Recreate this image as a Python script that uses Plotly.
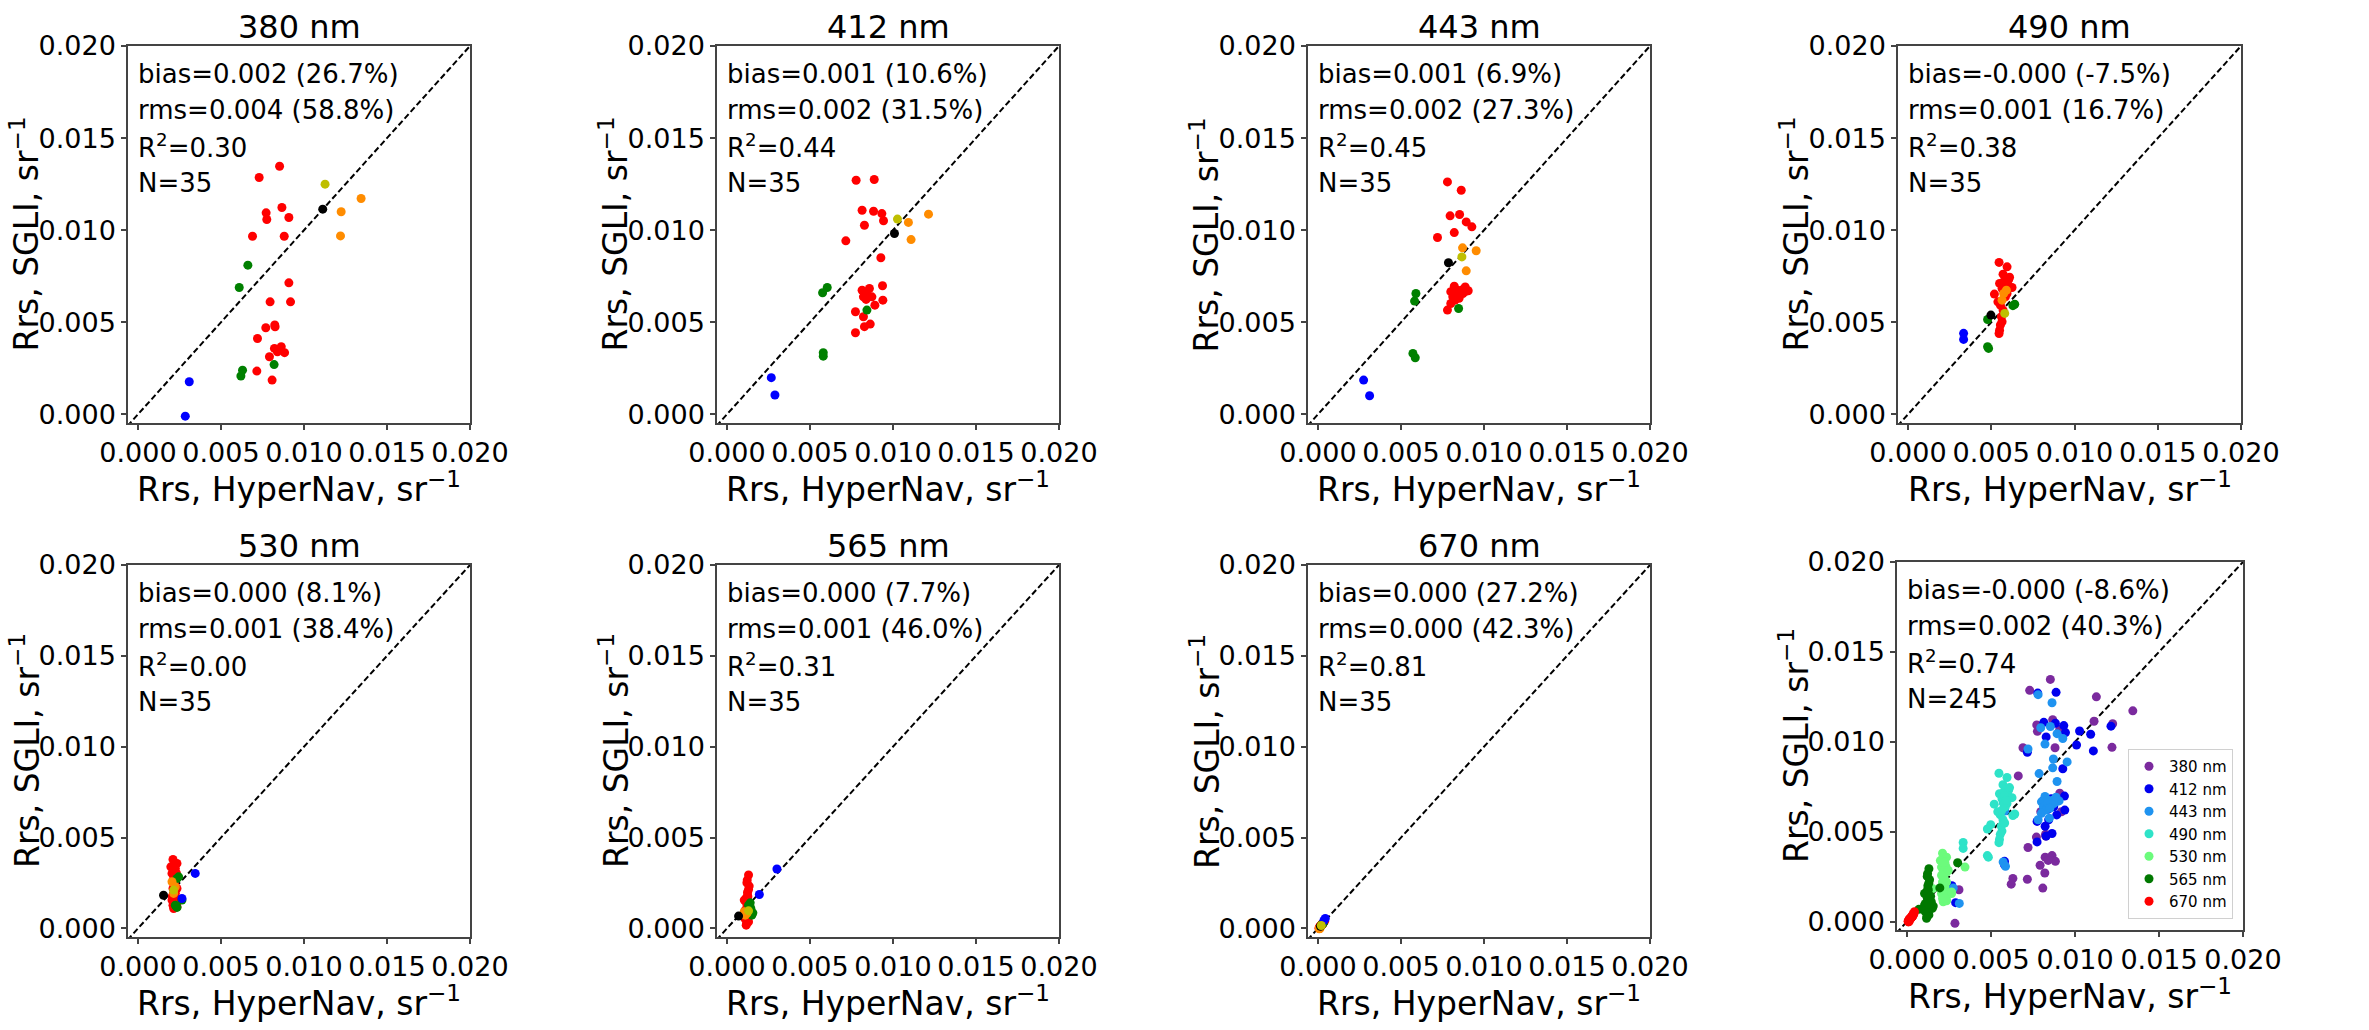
import plotly.graph_objects as go

# ---------------------------------------------------------------------------
# Matchup data: Rrs from HyperNav (x) vs SGLI (y), sr^-1, 35 matchups per band.
# Sample order is the same in every band: 23 red, 5 green, 2 blue, 3 orange,
# 1 black, 1 olive group members.
# ---------------------------------------------------------------------------
sample_group = (["red"] * 23 + ["green"] * 5 + ["blue"] * 2 +
                ["orange"] * 3 + ["black"] + ["olive"])

hn_380 = [0.00853, 0.0073, 0.00867, 0.00772, 0.00776, 0.00909, 0.0069, 0.00881, 0.00909, 0.00796,
          0.00919, 0.0077, 0.00824, 0.00826, 0.0072, 0.00822, 0.00863, 0.00883, 0.00845, 0.00792,
          0.00716, 0.00808, 0.0084,
          0.00662, 0.0061, 0.0063, 0.0062, 0.0082,
          0.00309, 0.00285,
          0.01344, 0.01224, 0.0122,
          0.01113,
          0.01127]
sg_380 = [0.01347, 0.01286, 0.01123, 0.01094, 0.01058, 0.01069, 0.00967, 0.00967, 0.00714, 0.00611,
          0.00611, 0.0047, 0.00485, 0.00475, 0.00412, 0.00358, 0.00367, 0.00335, 0.00353, 0.00313,
          0.00235, 0.00186, 0.0034,
          0.0081, 0.00689, 0.0024, 0.00208, 0.0027,
          0.00177, -0.0001,
          0.01172, 0.011, 0.00969,
          0.01114,
          0.0125]

hn_412 = [0.00778, 0.00887, 0.00814, 0.00883, 0.00933, 0.00943, 0.00828, 0.00716, 0.00927, 0.00937,
          0.00939, 0.00814, 0.00858, 0.00822, 0.00846, 0.00873, 0.00838, 0.00891, 0.00774, 0.00822,
          0.00828, 0.00863, 0.00774,
          0.00576, 0.00604, 0.0058, 0.0058, 0.00843,
          0.00267, 0.00289,
          0.01214, 0.01093, 0.01109,
          0.01009,
          0.01027]
sg_412 = [0.01271, 0.01275, 0.01108, 0.01103, 0.0109, 0.01051, 0.01027, 0.00942, 0.0085, 0.00698,
          0.0062, 0.00674, 0.00683, 0.00638, 0.00647, 0.00638, 0.00624, 0.00593, 0.00557, 0.0053,
          0.00476, 0.0049, 0.00443,
          0.0066, 0.00689, 0.00335, 0.00316, 0.00566,
          0.00199, 0.00105,
          0.01087, 0.01042, 0.00949,
          0.00982,
          0.0106]

hn_443 = [0.0078, 0.00863, 0.00796, 0.00853, 0.00893, 0.00927, 0.00821, 0.0072, 0.00821, 0.00837,
          0.008, 0.00867, 0.00905, 0.0089, 0.00812, 0.00847, 0.00873, 0.00826, 0.008, 0.0078,
          0.00887, 0.00835, 0.0085,
          0.0059, 0.00582, 0.00572, 0.00586, 0.00847,
          0.00275, 0.00311,
          0.00871, 0.00953, 0.00893,
          0.00786,
          0.00867]
sg_443 = [0.01262, 0.01217, 0.01078, 0.01085, 0.01045, 0.01018, 0.00987, 0.0096, 0.00696, 0.00675,
          0.00666, 0.00675, 0.00671, 0.00668, 0.00638, 0.00647, 0.00656, 0.0062, 0.00602, 0.00566,
          0.00692, 0.0066, 0.0063,
          0.00656, 0.00615, 0.00331, 0.00307, 0.00575,
          0.00186, 0.00101,
          0.00904, 0.00888, 0.00779,
          0.00823,
          0.00855]

hn_490 = [0.00547, 0.00595, 0.00519, 0.0055, 0.00575, 0.00605, 0.00599, 0.00625, 0.00565, 0.00585,
          0.00555, 0.00571, 0.00561, 0.00565, 0.00555, 0.0055, 0.00547, 0.00575, 0.00595, 0.0054,
          0.00571, 0.0061, 0.0058,
          0.00478, 0.00478, 0.00484, 0.00641, 0.0063,
          0.00334, 0.00334,
          0.00575, 0.00591, 0.00565,
          0.00498,
          0.00581]
sg_490 = [0.00825, 0.00801, 0.00653, 0.00711, 0.0072, 0.00732, 0.00702, 0.00689, 0.00683, 0.00638,
          0.00593, 0.00566, 0.0053, 0.00503, 0.00485, 0.00457, 0.00439, 0.00674, 0.00656, 0.00611,
          0.00761, 0.00745, 0.007,
          0.00515, 0.00367, 0.00358, 0.00598, 0.0059,
          0.0044, 0.00407,
          0.00656, 0.00674, 0.0062,
          0.00539,
          0.00548]

hn_530 = [0.00211, 0.00235, 0.00205, 0.00231, 0.00215, 0.00219, 0.00211, 0.00225, 0.00215, 0.00221,
          0.00215, 0.00235, 0.00198, 0.00225, 0.00205, 0.00231, 0.00211, 0.00238, 0.00215, 0.00222,
          0.00207, 0.00235, 0.00219,
          0.00235, 0.00235, 0.00265, 0.00225, 0.00245,
          0.00345, 0.00265,
          0.00205, 0.00215, 0.00225,
          0.00154,
          0.00215]
sg_530 = [0.0038, 0.00358, 0.00303, 0.00306, 0.00275, 0.00248, 0.0022, 0.00193, 0.00165, 0.00138,
          0.0011, 0.00119, 0.00339, 0.0033, 0.00156, 0.00156, 0.00128, 0.00147, 0.00266, 0.00288,
          0.00178, 0.0022, 0.0033,
          0.00275, 0.00116, 0.00156, 0.00128, 0.00284,
          0.00303, 0.00165,
          0.00257, 0.00193, 0.00229,
          0.00183,
          0.00211]

hn_565 = [0.0013, 0.0012, 0.0013, 0.00104, 0.0012, 0.00116, 0.00124, 0.0012, 0.00116, 0.0013,
          0.00112, 0.00126, 0.00118, 0.00124, 0.00122, 0.0013, 0.0011, 0.00108, 0.00124, 0.00134,
          0.00118, 0.0012, 0.00126,
          0.0014, 0.0015, 0.00156, 0.0013, 0.00144,
          0.00301, 0.00195,
          0.0011, 0.0012, 0.00104,
          0.0007,
          0.0013]
sg_565 = [0.00294, 0.00251, 0.00215, 0.00156, 0.00147, 0.00165, 0.00119, 0.00046, 0.00018, 0.00037,
          0.00064, 0.00083, 0.00101, 0.00183, 0.00266, 0.00128, 0.00101, 0.00055, 0.00199, 0.00233,
          0.00028, 0.00132, 0.00174,
          0.00141, 0.00073, 0.00086, 0.00128, 0.0011,
          0.00327, 0.00187,
          0.00073, 0.00083, 0.00092,
          0.00068,
          0.00097]

hn_670 = [0.0001, 0.00015, 0.0002, 0.00025, 0.0003, 0.00012, 0.00018, 0.00022, 0.00028, 0.00035,
          0.00008, 0.00014, 0.00026, 0.00032, 0.0004, 0.00016, 0.00021, 0.00006, 0.00011, 0.00024,
          0.00019, 0.00029, 0.00013,
          0.00022, 0.0003, 0.00018, 0.00026, 0.00033,
          0.00044, 0.00036,
          0.00012, 0.0001, 0.00008,
          0.00015,
          0.0002]
sg_670 = [0.00005, 0.00012, 0.00018, 0.00022, 0.00028, 0.0001, 0.00015, 0.0002, 0.00026, 0.00035,
          0.0, 0.00008, 0.00024, 0.0003, 0.0004, 0.00014, 0.00017, 0.00002, 0.00006, 0.00021,
          0.00016, 0.00027, 0.00011,
          0.0002, 0.00028, 0.00014, 0.00024, 0.00031,
          0.00055, 0.00044,
          0.0, 0.00003, -0.00002,
          0.00012,
          0.00016]

band_names = ["380 nm", "412 nm", "443 nm", "490 nm", "530 nm", "565 nm", "670 nm"]

# Match-up statistics printed in each panel (last entry: all bands pooled)
bias_text = ["0.002 (26.7%)", "0.001 (10.6%)", "0.001 (6.9%)", "-0.000 (-7.5%)",
             "0.000 (8.1%)", "0.000 (7.7%)", "0.000 (27.2%)", "-0.000 (-8.6%)"]
rms_text = ["0.004 (58.8%)", "0.002 (31.5%)", "0.002 (27.3%)", "0.001 (16.7%)",
            "0.001 (38.4%)", "0.001 (46.0%)", "0.000 (42.3%)", "0.002 (40.3%)"]
r2_text = ["0.30", "0.44", "0.45", "0.38", "0.00", "0.31", "0.81", "0.74"]

tick_values = [0.0, 0.005, 0.010, 0.015, 0.020]
tick_labels = ["0.000", "0.005", "0.010", "0.015", "0.020"]

# ---------------------------------------------------------------------------
# Styling
# ---------------------------------------------------------------------------
group_colors = {"red": "#ff0000", "green": "#008000", "blue": "#0000ff",
                "orange": "#ff8c00", "black": "#000000", "olive": "#bfbf00"}
band_colors = ["#7b2a9e", "#0000ee", "#1f93f0", "#2ee3c8", "#6cfb7c", "#007800", "#ff0000"]

FONT = "DejaVu Sans"
W, H = 2369, 1030

# Panel frames in pixels: (left, right, top, bottom)
frames = [
    (128, 470, 46, 423), (717, 1059, 46, 423), (1308, 1650, 46, 423), (1898, 2241, 46, 423),
    (128, 470, 565, 937), (717, 1059, 565, 937), (1308, 1650, 565, 937), (1897, 2243, 562, 930),
]
XR = [-0.0006, 0.020]
YR = [-0.00047, 0.020]

bands = [(hn_380, sg_380), (hn_412, sg_412), (hn_443, sg_443), (hn_490, sg_490),
         (hn_530, sg_530), (hn_565, sg_565), (hn_670, sg_670)]

fig = go.Figure()
layout_axes = {}
annotations = []


def px_x(p):
    return p / W


def px_y(p):
    return 1 - p / H


for i, (l, r, t, b) in enumerate(frames):
    k = i + 1
    xa = "x" if k == 1 else f"x{k}"
    ya = "y" if k == 1 else f"y{k}"
    axis_common = dict(
        tickvals=tick_values, ticktext=tick_labels, ticks="outside", ticklen=5,
        tickwidth=1.5, tickcolor="#444", showline=True, linecolor="#444", linewidth=1.5,
        mirror=True, showgrid=False, zeroline=False, automargin=False,
        tickfont=dict(family=FONT, size=27, color="black"),
    )
    layout_axes["xaxis" if k == 1 else f"xaxis{k}"] = dict(
        axis_common, domain=[px_x(l), px_x(r)], range=XR, anchor=ya)
    layout_axes["yaxis" if k == 1 else f"yaxis{k}"] = dict(
        axis_common, domain=[px_y(b), px_y(t)], range=YR, anchor=xa)

    # 1:1 reference line
    fig.add_trace(go.Scatter(x=[-0.001, 0.0205], y=[-0.001, 0.0205], mode="lines",
                             line=dict(color="black", width=2, dash="6px,3px"),
                             xaxis=xa, yaxis=ya, showlegend=False, hoverinfo="skip"))

    if i < 7:
        xs, ys = bands[i]
        fig.add_trace(go.Scatter(
            x=xs, y=ys, mode="markers", xaxis=xa, yaxis=ya, showlegend=False,
            marker=dict(size=9, color=[group_colors[g] for g in sample_group], line=dict(width=0)),
        ))
        n_points = len(xs)
        annotations.append(dict(text=band_names[i], x=px_x((l + r) / 2), y=px_y(t - 19),
                                xref="paper", yref="paper", showarrow=False,
                                xanchor="center", yanchor="middle",
                                font=dict(family=FONT, size=32, color="black")))
    else:
        n_points = 0
        for j, (xs, ys) in enumerate(bands):
            fig.add_trace(go.Scatter(
                x=xs, y=ys, mode="markers", xaxis=xa, yaxis=ya, name=band_names[j],
                marker=dict(size=9, color=band_colors[j], line=dict(width=0)),
            ))
            n_points += len(xs)

    stats = [f"bias={bias_text[i]}", f"rms={rms_text[i]}",
             f"R<sup>2</sup>={r2_text[i]}", f"N={n_points}"]
    for line, off in zip(stats, [28, 64, 100, 137]):
        annotations.append(dict(text=line, x=px_x(l + 8), y=px_y(t + off),
                                xref="paper", yref="paper", showarrow=False,
                                xanchor="left", yanchor="middle",
                                font=dict(family=FONT, size=26, color="black")))

    # axis titles
    annotations.append(dict(text="Rrs, HyperNav, sr<sup>\u22121</sup>", x=px_x((l + r) / 2),
                            y=px_y(b + 64), xref="paper", yref="paper", showarrow=False,
                            xanchor="center", yanchor="middle",
                            font=dict(family=FONT, size=33, color="black")))
    annotations.append(dict(text="Rrs, SGLI, sr<sup>\u22121</sup>", x=px_x(l - 103),
                            y=px_y((t + b) / 2), xref="paper", yref="paper", showarrow=False,
                            xanchor="center", yanchor="middle", textangle=-90,
                            font=dict(family=FONT, size=33, color="black")))

fig.update_layout(
    width=W, height=H,
    margin=dict(l=0, r=0, t=0, b=0, autoexpand=False),
    paper_bgcolor="white", plot_bgcolor="white",
    font=dict(family=FONT, color="black"),
    annotations=annotations,
    showlegend=True,
    legend=dict(x=px_x(2128), y=px_y(749), xanchor="left", yanchor="top",
                bgcolor="white", bordercolor="#d0d0d0", borderwidth=1,
                font=dict(family=FONT, size=15, color="black"),
                tracegroupgap=0, itemwidth=30),
    **layout_axes,
)

fig.write_html("out.html")
